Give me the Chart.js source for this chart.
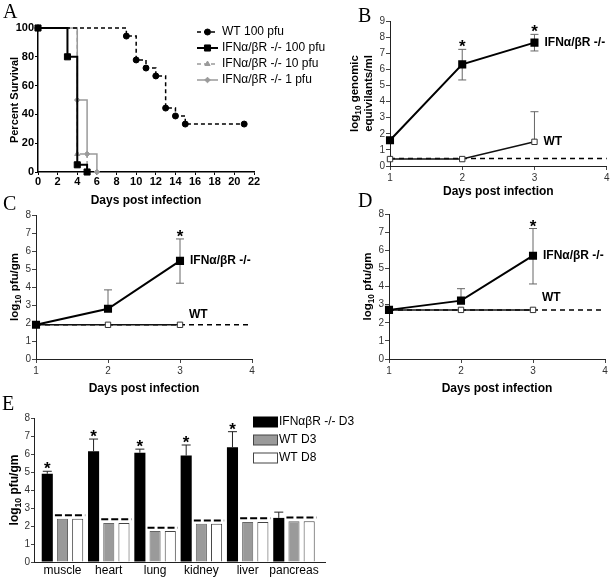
<!DOCTYPE html>
<html>
<head>
<meta charset="utf-8">
<script src="https://cdn.jsdelivr.net/npm/chart.js@4.4.1/dist/chart.umd.min.js"></script>
<style>
  body{margin:0;background:#fff;width:613px;height:578px;position:relative;overflow:hidden}
  canvas{position:absolute}
  .lt{position:absolute;font-family:"Liberation Serif","Times New Roman",serif;font-size:20px;line-height:20px;color:#000}
</style>
</head>
<body>
<canvas id="cA" width="345" height="212" style="left:0;top:0"></canvas>
<canvas id="cB" width="313" height="200" style="left:300px;top:0"></canvas>
<canvas id="cC" width="300" height="200" style="left:0;top:200px"></canvas>
<canvas id="cD" width="313" height="200" style="left:300px;top:200px"></canvas>
<canvas id="cE" width="613" height="178" style="left:0;top:400px"></canvas>
<div class="lt" style="left:3px;top:1px">A</div>
<div class="lt" style="left:358px;top:5px">B</div>
<div class="lt" style="left:3px;top:193px">C</div>
<div class="lt" style="left:358px;top:190px">D</div>
<div class="lt" style="left:2px;top:393px">E</div>
<script>
// ===== data =====
// A: survival (Kaplan-Meier steps)
const daysWT   = [0, 9, 10, 11, 12, 13, 14, 15, 21];
const survWT   = [100, 94.4, 77.8, 72.2, 66.7, 44.4, 38.9, 33.3, 33.3];
const daysKO100 = [0, 3, 4, 5];
const survKO100 = [100, 80, 5, 0];
const daysKO10 = [0, 4, 5];
const survKO10 = [100, 12.5, 0];
const daysKO1  = [0, 4, 5, 6];
const survKO1  = [100, 50, 12.5, 0];
const survNames = ['WT 100 pfu', 'IFNα/βR -/- 100 pfu', 'IFNα/βR -/- 10 pfu', 'IFNα/βR -/- 1 pfu'];

// B, C, D: time course, days 1-3
const days = [1, 2, 3];
const bKO = [1.6, 6.31, 7.66], bKOHi = [null, 7.24, 8.17], bKOLo = [null, 5.34, 7.14];
const bWT = [0.43, 0.43, 1.5], bWTHi = [null, null, 3.37];
const bLimit = 0.47, bStars = [false, true, true];
const cKO = [1.9, 2.79, 5.45], cKOHi = [null, 3.84, 6.67], cKOLo = [null, null, 4.21];
const cWT = [1.9, 1.9, 1.9];
const cLimit = 1.9, cStars = [false, false, true];
const dKO = [2.71, 3.22, 5.7], dKOHi = [null, 3.88, 7.2], dKOLo = [null, null, 4.14];
const dWT = [2.71, 2.71, 2.71];
const dLimit = 2.71, dStars = [false, false, true];

// E: organ titres
const organs = ['muscle', 'heart', 'lung', 'kidney', 'liver', 'pancreas'];
const organKO   = [4.9, 6.15, 6.07, 5.91, 6.37, 2.45];
const organKOHi = [5.04, 6.83, 6.27, 6.5, 7.24, 2.77];
const organWT3  = [2.4, 2.17, 1.72, 2.12, 2.22, 2.27];
const organWT8  = [2.4, 2.17, 1.72, 2.12, 2.22, 2.27];
const organLimit = [2.6, 2.37, 1.9, 2.31, 2.43, 2.47];
const organStars = [true, true, true, true, true, false];
const organNames = ['IFNαβR -/- D3', 'WT D3', 'WT D8'];

// ===== helpers =====
const FONT = '"Liberation Sans", Arial, Helvetica, sans-serif';
Chart.defaults.font.family = FONT;
Chart.defaults.color = '#000';
const GRAY = '#9a9a9a';

const pairs = (xs, ys) => xs.map((x, i) => ({x, y: ys[i]}));

function txt(ctx, s, x, y, font, align, base){
  ctx.save();
  ctx.font = font; ctx.textAlign = align || 'center'; ctx.textBaseline = base || 'middle';
  ctx.fillStyle = '#000'; ctx.fillText(s, x, y);
  ctx.restore();
}
// rotated axis title, parts = [[text, isSub], ...]
function rotTitle(ctx, parts, x, y, size){
  ctx.save();
  ctx.translate(x, y); ctx.rotate(-Math.PI / 2);
  const fonts = parts.map(p => `bold ${p[1] ? size * 0.72 : size}px ${FONT}`);
  let total = 0;
  const ws = parts.map((p, i) => { ctx.font = fonts[i]; const w = ctx.measureText(p[0]).width; total += w; return w; });
  let cx = -total / 2;
  ctx.textAlign = 'left'; ctx.textBaseline = 'middle'; ctx.fillStyle = '#000';
  parts.forEach((p, i) => { ctx.font = fonts[i]; ctx.fillText(p[0], cx, p[1] ? size * 0.3 : 0); cx += ws[i]; });
  ctx.restore();
}
function star(ctx, x, yTop){
  txt(ctx, '*', x, yTop + 3, `bold 17px ${FONT}`, 'center', 'alphabetic');
}
function errBar(ctx, x, y0, y1, half, color){
  ctx.save();
  ctx.strokeStyle = color; ctx.lineWidth = 1;
  ctx.beginPath();
  ctx.moveTo(x, y0); ctx.lineTo(x, y1);
  ctx.moveTo(x - half, y1); ctx.lineTo(x + half, y1);
  ctx.stroke();
  ctx.restore();
}
function marker(ctx, style, x, y, r, fill, stroke){
  ctx.save();
  ctx.fillStyle = fill; ctx.strokeStyle = stroke; ctx.lineWidth = 1;
  ctx.beginPath();
  if (style === 'circle') ctx.arc(x, y, r, 0, Math.PI * 2);
  else if (style === 'rect') { const s = r * Math.SQRT1_2; ctx.rect(x - s, y - s, 2 * s, 2 * s); }
  else if (style === 'triangle') { ctx.moveTo(x, y - r); ctx.lineTo(x + r * 0.87, y + r / 2); ctx.lineTo(x - r * 0.87, y + r / 2); ctx.closePath(); }
  else { ctx.moveTo(x, y - r); ctx.lineTo(x + r, y); ctx.lineTo(x, y + r); ctx.lineTo(x - r, y); ctx.closePath(); }
  ctx.fill(); ctx.stroke();
  ctx.restore();
}

// fixed-size axes so the plot areas land where the figure has them
function axes(area, xH, xOpt, yOpt){
  return {
    x: Object.assign({
      type: 'linear',
      grid: {drawOnChartArea: false, tickLength: 4, color: '#444'},
      border: {color: '#222', width: 1},
      afterFit: s => { s.height = xH; }
    }, xOpt),
    y: Object.assign({
      grid: {drawOnChartArea: false, tickLength: 4, color: '#444'},
      border: {color: '#222', width: 1},
      afterFit: s => { s.width = area.l; }
    }, yOpt)
  };
}
function baseOpts(el, area, xH){
  return {
    responsive: false, animation: false, events: [], devicePixelRatio: 1,
    layout: {padding: {left: 0, top: area.t, right: el.width - area.r, bottom: el.height - area.b - xH}},
    plugins: {legend: {display: false}, tooltip: {enabled: false}}
  };
}

// ===== A: survival =====
(function(){
  const el = document.getElementById('cA');
  const area = {l: 38, t: 28, r: 254, b: 172};
  const opts = baseOpts(el, area, 20);
  const tickFont = {size: 11, weight: 'bold'};
  opts.scales = axes(area, 20,
    {min: 0, max: 22, ticks: {stepSize: 2, font: tickFont, padding: 0}, grid: {drawOnChartArea: false, tickLength: 3, color: '#000'}, border: {color: '#000', width: 1.5}},
    {min: 0, max: 100, ticks: {stepSize: 20, font: tickFont, padding: 1}, grid: {drawOnChartArea: false, tickLength: 3, color: '#000'}, border: {color: '#000', width: 1.5}});
  const styles = [
    {pts: 'circle', r: 3, col: '#000', dash: [4, 3], w: 1.5},
    {pts: 'rect', r: 4.3, col: '#000', dash: [], w: 2},
    {pts: 'triangle', r: 3, col: GRAY, dash: [4, 3], w: 1.5},
    {pts: 'rectRot', r: 2.8, col: GRAY, dash: [], w: 1.5}
  ];
  const series = [pairs(daysWT, survWT), pairs(daysKO100, survKO100), pairs(daysKO10, survKO10), pairs(daysKO1, survKO1)];
  const order = [1, 0, 3, 2];
  new Chart(el, {
    type: 'line',
    data: {datasets: series.map((d, i) => ({
      label: survNames[i], data: d, stepped: 'before', clip: false, order: order[i],
      borderColor: styles[i].col, borderWidth: styles[i].w, borderDash: styles[i].dash,
      pointStyle: styles[i].pts, pointRadius: styles[i].r,
      pointBackgroundColor: styles[i].col, pointBorderColor: styles[i].col, pointBorderWidth: 1
    }))},
    options: opts,
    plugins: [{
      id: 'extrasA',
      afterDraw(c){
        const ctx = c.ctx, ca = c.chartArea;
        txt(ctx, 'Days post infection', (ca.left + ca.right) / 2, ca.bottom + 29, `bold 12px ${FONT}`);
        rotTitle(ctx, [['Percent Survival', 0]], ca.left - 23, (ca.top + ca.bottom) / 2, 11);
        styles.forEach((s, i) => {
          const y = 32 + i * 16;
          ctx.save();
          ctx.strokeStyle = s.col; ctx.lineWidth = s.w; ctx.setLineDash(s.dash);
          ctx.beginPath(); ctx.moveTo(197, y); ctx.lineTo(218, y); ctx.stroke();
          ctx.restore();
          const ms = s.pts === 'rectRot' ? 'diamond' : s.pts;
          marker(ctx, ms, 207.5, y, s.r, s.col, s.col);
          txt(ctx, survNames[i], 222, y, `12px ${FONT}`, 'left');
        });
      }
    }]
  });
})();

// ===== B, C, D: time courses =====
function timeCourse(id, s){
  const el = document.getElementById(id);
  const opts = baseOpts(el, s.area, 20);
  const tickFont = {size: 10};
  opts.scales = axes(s.area, 20,
    {min: 1, max: 4, ticks: {stepSize: 1, font: tickFont, color: '#333', padding: 2}},
    {min: 0, max: s.yMax, ticks: {stepSize: 1, font: tickFont, color: '#333', padding: 1}});
  new Chart(el, {
    type: 'line',
    data: {datasets: [
      {data: pairs(days, s.ko), borderColor: '#000', borderWidth: 2, pointStyle: 'rect', pointRadius: 4.3,
       pointBackgroundColor: '#000', pointBorderColor: '#000', clip: false, order: 1},
      {data: pairs(days, s.wt), borderColor: '#111', borderWidth: 1.5, pointStyle: 'rect', pointRadius: 3.8,
       pointBackgroundColor: '#fff', pointBorderColor: '#333', pointBorderWidth: 1, clip: false, order: 2},
      {data: [{x: 1, y: s.limit}, {x: 4, y: s.limit}], borderColor: '#000', borderWidth: 1.5, borderDash: [5, 4],
       pointRadius: 0, clip: false, order: 3}
    ]},
    options: opts,
    plugins: [{
      id: 'extras' + id,
      beforeDatasetsDraw(c){
        const ctx = c.ctx, y = c.scales.y;
        [[0, s.koHi, s.koLo], [1, s.wtHi || [], s.wtLo || []]].forEach(([di, hi, lo]) => {
          c.getDatasetMeta(di).data.forEach((p, i) => {
            if (hi[i] != null) errBar(ctx, p.x, p.y, y.getPixelForValue(hi[i]), 4, '#666');
            if (lo[i] != null) errBar(ctx, p.x, p.y, y.getPixelForValue(lo[i]), 4, '#666');
          });
        });
      },
      afterDraw(c){
        const ctx = c.ctx, ca = c.chartArea, y = c.scales.y;
        const ko = c.getDatasetMeta(0).data, wt = c.getDatasetMeta(1).data;
        ko.forEach((p, i) => { if (s.stars[i]) star(ctx, p.x, y.getPixelForValue(s.koHi[i])); });
        const last = ko.length - 1;
        txt(ctx, 'IFNα/βR -/-', ko[last].x + 10, ko[last].y, `bold 12px ${FONT}`, 'left');
        txt(ctx, 'WT', wt[last].x + 9, wt[last].y - s.wtDy, `bold 12px ${FONT}`, 'left');
        txt(ctx, 'Days post infection', (ca.left + ca.right) / 2, ca.bottom + s.xTitleDy, `bold 12px ${FONT}`);
        const cy = (ca.top + ca.bottom) / 2;
        if (s.twoLine) {
          rotTitle(ctx, [['log', 0], ['10', 1], [' genomic', 0]], ca.left - 35, cy, 11.5);
          rotTitle(ctx, [['equivilants/ml', 0]], ca.left - 21, cy, 11.5);
        } else {
          rotTitle(ctx, [['log', 0], ['10', 1], [' pfu/gm', 0]], ca.left - 21, cy, 11.5);
        }
      }
    }]
  });
}
timeCourse('cB', {area: {l: 90, t: 21, r: 307, b: 166}, yMax: 9, ko: bKO, koHi: bKOHi, koLo: bKOLo,
  wt: bWT, wtHi: bWTHi, limit: bLimit, stars: bStars, wtDy: 0, xTitleDy: 26, twoLine: true});
timeCourse('cC', {area: {l: 36, t: 15, r: 252, b: 159}, yMax: 8, ko: cKO, koHi: cKOHi, koLo: cKOLo,
  wt: cWT, limit: cLimit, stars: cStars, wtDy: 10, xTitleDy: 30});
timeCourse('cD', {area: {l: 89, t: 14, r: 305, b: 159}, yMax: 8, ko: dKO, koHi: dKOHi, koLo: dKOLo,
  wt: dWT, limit: dLimit, stars: dStars, wtDy: 12, xTitleDy: 30});

// ===== E: organ bars =====
(function(){
  const el = document.getElementById('cE');
  const area = {l: 34, t: 18, r: 325, b: 162};
  const opts = baseOpts(el, area, 16);
  opts.scales = axes(area, 16,
    {min: -0.615, max: 5.67, offset: false,
     afterBuildTicks: s => { s.ticks = organs.map((o, i) => ({value: i})); },
     ticks: {callback: v => organs[v], autoSkip: false, maxRotation: 0, font: {size: 12}, color: '#000', padding: 1},
     grid: {drawOnChartArea: false, drawTicks: false, offset: false}},
    {min: 0, max: 8, ticks: {stepSize: 1, font: {size: 10}, color: '#333', padding: 1}, grid: {drawOnChartArea: false, tickLength: 3, color: '#444'}});
  opts.datasets = {bar: {categoryPercentage: 0.985, barPercentage: 0.73}};
  const fills = ['#000', GRAY, '#fff'], edges = ['#000', '#666', '#444'];
  const vals = [organKO, organWT3, organWT8];
  new Chart(el, {
    type: 'bar',
    data: {datasets: vals.map((v, k) => ({
      label: organNames[k], data: pairs(organs.map((o, i) => i), v),
      backgroundColor: fills[k], borderColor: edges[k], borderWidth: k ? 1 : 0
    }))},
    options: opts,
    plugins: [{
      id: 'extrasE',
      afterDatasetsDraw(c){
        const ctx = c.ctx, y = c.scales.y;
        const ko = c.getDatasetMeta(0).data, g = c.getDatasetMeta(1).data, w = c.getDatasetMeta(2).data;
        ko.forEach((b, i) => {
          const top = y.getPixelForValue(organKOHi[i]);
          errBar(ctx, b.x, b.y, top, 4.5, '#222');
          if (organStars[i]) star(ctx, b.x, top);
          const ly = y.getPixelForValue(organLimit[i]);
          ctx.save();
          ctx.strokeStyle = '#000'; ctx.lineWidth = 2; ctx.setLineDash([7, 3]);
          ctx.beginPath();
          ctx.moveTo(g[i].x - g[i].width / 2 - 2, ly); ctx.lineTo(w[i].x + w[i].width / 2 + 2, ly);
          ctx.stroke();
          ctx.restore();
        });
      },
      afterDraw(c){
        const ctx = c.ctx, ca = c.chartArea;
        rotTitle(ctx, [['log', 0], ['10', 1], [' pfu/gm', 0]], ca.left - 19, (ca.top + ca.bottom) / 2, 12);
        organNames.forEach((n, k) => {
          const y = 22 + k * 18;
          ctx.save();
          ctx.fillStyle = fills[k]; ctx.strokeStyle = k ? '#444' : '#000'; ctx.lineWidth = 1;
          ctx.fillRect(253.5, y - 5, 24, 10); ctx.strokeRect(253.5, y - 5, 24, 10);
          ctx.restore();
          txt(ctx, n, 279, y, `12px ${FONT}`, 'left');
        });
      }
    }]
  });
})();
</script>
</body>
</html>
